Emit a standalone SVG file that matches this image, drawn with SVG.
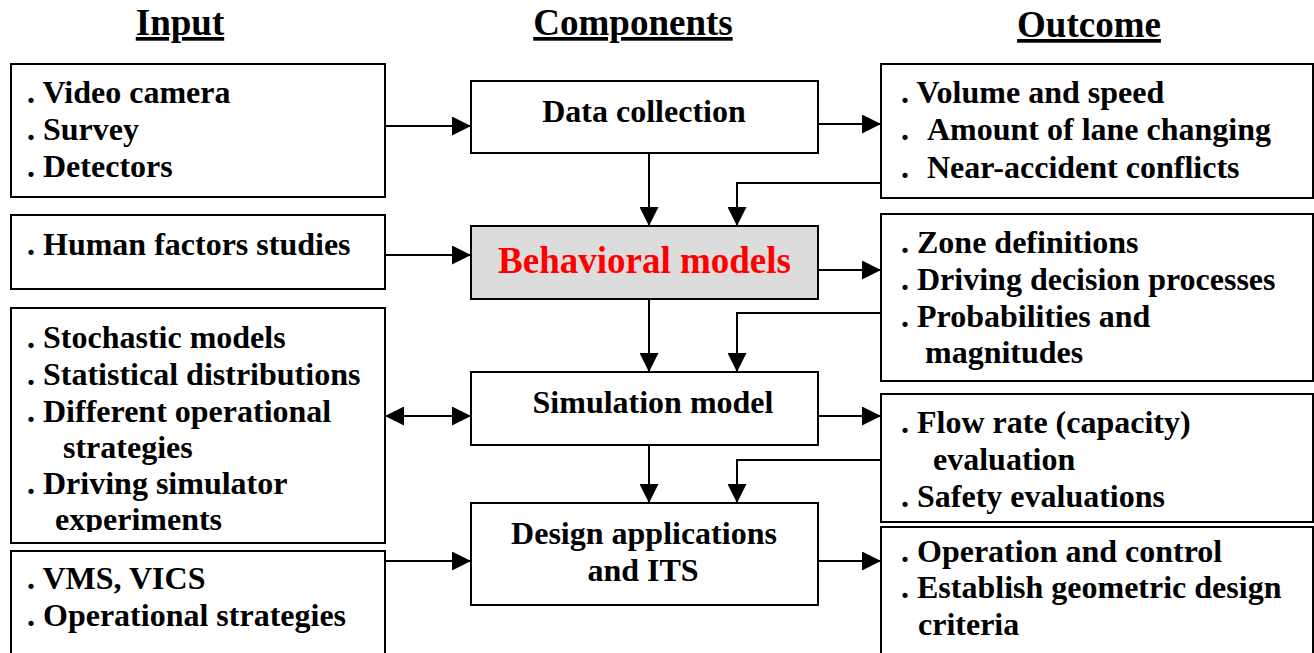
<svg xmlns="http://www.w3.org/2000/svg" width="1314" height="653" viewBox="0 0 1314 653">
<style>
.box{fill:#fff;stroke:#000;stroke-width:2}
.hl{fill:#dcdcdc;stroke:#000;stroke-width:2}
.t{font-family:"Liberation Serif","Times New Roman",serif;font-weight:bold;font-size:32px;fill:#000}
.h{font-family:"Liberation Serif","Times New Roman",serif;font-weight:bold;font-size:37px;fill:#000;text-anchor:middle;text-decoration:underline}
.c{text-anchor:middle}
.red{font-size:37px;fill:#ff0000}
.ln{fill:none;stroke:#000;stroke-width:2}
</style>
<defs>
<marker id="ah" viewBox="0 0 20 20" refX="20" refY="10" markerWidth="20" markerHeight="19" markerUnits="userSpaceOnUse" orient="auto-start-reverse">
<path d="M0,0 L20,10 L0,20 z" fill="#000"/>
</marker>
<clipPath id="clipExp"><rect x="0" y="300" width="400" height="232"/></clipPath>
</defs>
<rect width="1314" height="653" fill="#fff"/>

<g id="headers">
<text class="h" x="180" y="35">Input</text>
<text class="h" x="633" y="35">Components</text>
<text class="h" x="1089" y="37">Outcome</text>
</g>

<g id="in-data">
<rect class="box" x="11" y="64" width="374" height="133"/>
<text class="t" x="27" y="103">. Video camera</text>
<text class="t" x="27" y="140">. Survey</text>
<text class="t" x="27" y="177">. Detectors</text>
</g>
<g id="in-human">
<rect class="box" x="11" y="215" width="374" height="74"/>
<text class="t" x="27" y="255">. Human factors studies</text>
</g>
<g id="in-stoch">
<rect class="box" x="11" y="308" width="374" height="235"/>
<text class="t" x="27" y="348">. Stochastic models</text>
<text class="t" x="27" y="385">. Statistical distributions</text>
<text class="t" x="27" y="422">. Different operational</text>
<text class="t" x="63" y="458">strategies</text>
<text class="t" x="27" y="494">. Driving simulator</text>
<text class="t" x="55" y="530" clip-path="url(#clipExp)">experiments</text>
</g>
<g id="in-vms">
<rect class="box" x="11" y="551" width="374" height="110"/>
<text class="t" x="27" y="589">. VMS, VICS</text>
<text class="t" x="27" y="626">. Operational strategies</text>
</g>

<g id="c-data">
<rect class="box" x="471" y="81" width="347" height="72"/>
<text class="t c" x="644" y="122">Data collection</text>
</g>
<g id="c-beh">
<rect class="hl" x="471" y="226" width="347" height="73"/>
<text class="t c red" x="644.5" y="273">Behavioral models</text>
</g>
<g id="c-sim">
<rect class="box" x="471" y="372" width="347" height="73"/>
<text class="t c" x="653" y="413">Simulation model</text>
</g>
<g id="c-design">
<rect class="box" x="471" y="503" width="347" height="102"/>
<text class="t c" x="644" y="544">Design applications</text>
<text class="t c" x="643" y="581">and ITS</text>
</g>

<g id="out-volume">
<rect class="box" x="881" y="64" width="432" height="134"/>
<text class="t" x="901" y="103">. Volume and speed</text>
<text class="t" x="901" y="140">.<tspan x="927">Amount of lane changing</tspan></text>
<text class="t" x="901" y="178">.<tspan x="927">Near-accident conflicts</tspan></text>
</g>
<g id="out-zone">
<rect class="box" x="881" y="214" width="432" height="167"/>
<text class="t" x="901" y="253">. Zone definitions</text>
<text class="t" x="901" y="290">. Driving decision processes</text>
<text class="t" x="901" y="327">. Probabilities and</text>
<text class="t" x="925" y="363">magnitudes</text>
</g>
<g id="out-flow">
<rect class="box" x="881" y="394" width="432" height="128"/>
<text class="t" x="901" y="433">. Flow rate (capacity)</text>
<text class="t" x="933" y="470">evaluation</text>
<text class="t" x="901" y="507">. Safety evaluations</text>
</g>
<g id="out-op">
<rect class="box" x="881" y="527" width="432" height="134"/>
<text class="t" x="901" y="562">. Operation and control</text>
<text class="t" x="901" y="598">. Establish geometric design</text>
<text class="t" x="918" y="635">criteria</text>
</g>

<g id="connectors">
<path class="ln" d="M385,126 H471" marker-end="url(#ah)"/>
<path class="ln" d="M818,124 H881" marker-end="url(#ah)"/>
<path class="ln" d="M649,153 V226" marker-end="url(#ah)"/>
<path class="ln" d="M881,183 H737 V226" marker-end="url(#ah)"/>
<path class="ln" d="M385,255 H471" marker-end="url(#ah)"/>
<path class="ln" d="M818,270 H881" marker-end="url(#ah)"/>
<path class="ln" d="M649,299 V372" marker-end="url(#ah)"/>
<path class="ln" d="M881,313 H737 V372" marker-end="url(#ah)"/>
<path class="ln" d="M385,416 H471" marker-start="url(#ah)" marker-end="url(#ah)"/>
<path class="ln" d="M818,416 H881" marker-end="url(#ah)"/>
<path class="ln" d="M649,445 V503" marker-end="url(#ah)"/>
<path class="ln" d="M881,460 H737 V503" marker-end="url(#ah)"/>
<path class="ln" d="M385,561 H471" marker-end="url(#ah)"/>
<path class="ln" d="M818,561 H881" marker-end="url(#ah)"/>
</g>
</svg>
